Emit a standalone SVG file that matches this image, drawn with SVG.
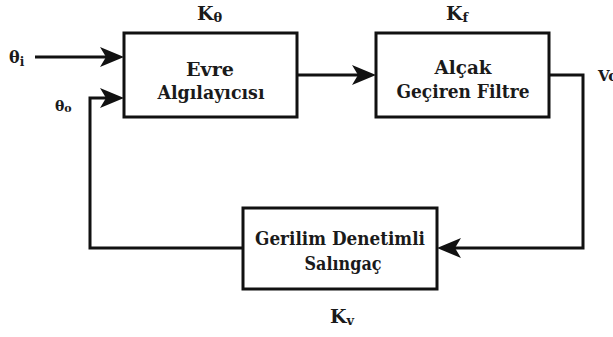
<svg xmlns="http://www.w3.org/2000/svg" width="613" height="337" viewBox="0 0 613 337">
  <style>
    .box { fill: #ffffff; stroke: #111111; stroke-width: 3; }
    .wire { fill: none; stroke: #111111; stroke-width: 3; }
    .t { font-size: 19px; text-anchor: middle; }
    .lbl { font-size: 19px; }
    .sub { font-size: 13px; }
  </style>
  <defs>
    <marker id="head" viewBox="-12 -11 24 22" refX="0" refY="0" markerWidth="24" markerHeight="22" markerUnits="userSpaceOnUse" orient="auto">
      <path d="M12,0 L-12,-10 L-6,0 L-12,10 Z" fill="#111111"/>
    </marker>
  </defs>
  <rect width="613" height="337" fill="#ffffff"/>

  <g id="connectors">
    <path class="wire" d="M35,57 H112" marker-end="url(#head)"/>
    <path class="wire" d="M298,75 H364" marker-end="url(#head)"/>
    <path class="wire" d="M549,75 H583 V248 H449" marker-end="url(#head)"/>
    <path class="wire" d="M243,248 H90 V98 H112" marker-end="url(#head)"/>
  </g>

  <g font-family="DejaVu Serif, Liberation Serif, serif" font-weight="bold" fill="#1a1a1a">
    <g id="phase-detector">
      <rect class="box" x="124" y="33" width="173" height="84"/>
      <text class="t" x="210" y="76" textLength="48" lengthAdjust="spacingAndGlyphs">Evre</text>
      <text class="t" x="211" y="99" textLength="107" lengthAdjust="spacingAndGlyphs">Algılayıcısı</text>
      <text class="lbl" x="197" y="20">K<tspan class="sub" dy="2">θ</tspan></text>
    </g>

    <g id="low-pass-filter">
      <rect class="box" x="376" y="33" width="173" height="84"/>
      <text class="t" x="463" y="74" textLength="57" lengthAdjust="spacingAndGlyphs">Alçak</text>
      <text class="t" x="463" y="98" textLength="133" lengthAdjust="spacingAndGlyphs">Geçiren Filtre</text>
      <text class="lbl" x="446" y="20">K<tspan class="sub" dy="2">f</tspan></text>
    </g>

    <g id="vco">
      <rect class="box" x="243" y="208" width="194" height="81"/>
      <text class="t" x="340" y="245" textLength="170" lengthAdjust="spacingAndGlyphs">Gerilim Denetimli</text>
      <text class="t" x="343" y="270" textLength="77" lengthAdjust="spacingAndGlyphs">Salıngaç</text>
      <text class="lbl" x="330" y="323">K<tspan class="sub" dy="2">v</tspan></text>
    </g>

    <g id="signal-labels">
      <text x="9" y="63" font-size="16">θ<tspan dy="3" font-size="12">i</tspan></text>
      <text x="55" y="111" font-size="14">θ<tspan dy="1" font-size="11">o</tspan></text>
      <text x="598" y="81" font-size="15">Vo</text>
    </g>
  </g>
</svg>
